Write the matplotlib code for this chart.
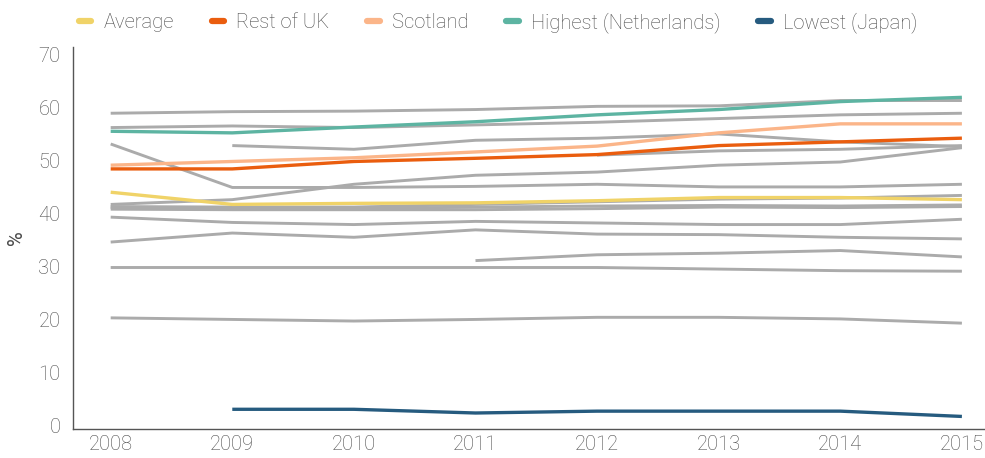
import matplotlib
matplotlib.use("Agg")
import matplotlib.pyplot as plt
import numpy as np
from matplotlib.lines import Line2D

plt.rcParams['font.family'] = ['Roboto', 'DejaVu Sans']
plt.rcParams['font.weight'] = 'light'

years = [2008, 2009, 2010, 2011, 2012, 2013, 2014, 2015]
nan = np.nan

# Highlighted series
average = [44.1, 41.8, 42.0, 42.1, 42.5, 43.1, 43.1, 42.7]
rest_of_uk = [48.5, 48.5, 49.9, 50.5, 51.2, 52.9, 53.6, 54.3]
scotland = [49.2, 49.9, 50.6, 51.7, 52.8, 55.3, 57.0, 57.0]
highest_netherlands = [55.6, 55.3, 56.4, 57.4, 58.7, 59.7, 61.2, 62.0]
lowest_japan = [nan, 3.15, 3.15, 2.45, 2.8, 2.8, 2.8, 1.8]

# Other countries (grey)
other_1 = [59.0, 59.3, 59.4, 59.7, 60.3, 60.4, 61.4, 61.4]
other_2 = [56.3, 56.6, 56.3, 56.8, 57.3, 58.0, 58.7, 59.0]
other_3 = [nan, 52.9, 52.2, 53.9, 54.3, 55.1, 53.6, 52.7]
other_4 = [nan, nan, nan, nan, 51.1, 51.9, 52.2, 52.9]
other_5 = [41.8, 42.7, 45.6, 47.3, 47.9, 49.2, 49.8, 52.5]
other_6 = [53.2, 45.0, 45.0, 45.2, 45.6, 45.1, 45.1, 45.6]
other_7 = [41.4, 41.3, 41.3, 41.8, 42.3, 42.8, 43.0, 43.5]
other_8 = [40.9, 40.8, 40.8, 40.8, 41.0, 41.3, 41.2, 41.4]
other_9 = [41.2, 41.0, 41.0, 41.3, 41.5, 41.6, 41.5, 41.7]
other_10 = [39.4, 38.4, 38.0, 38.6, 38.3, 38.0, 38.0, 39.0]
other_11 = [34.7, 36.4, 35.6, 37.0, 36.2, 36.1, 35.6, 35.3]
other_12 = [nan, nan, nan, 31.2, 32.3, 32.6, 33.1, 31.9]
other_13 = [29.9, 29.9, 29.9, 29.9, 29.9, 29.6, 29.3, 29.2]
other_14 = [20.4, 20.1, 19.8, 20.1, 20.5, 20.5, 20.2, 19.4]

others = [other_1, other_2, other_3, other_4, other_5, other_6, other_7,
          other_8, other_9, other_10, other_11, other_12, other_13, other_14]

highlight_labels = ["Average", "Rest of UK", "Scotland",
                    "Highest (Netherlands)", "Lowest (Japan)"]
highlight_values = [average, rest_of_uk, scotland, highest_netherlands, lowest_japan]
highlight_colors = ["#F0D368", "#EA5D0E", "#FBB589", "#5DB4A2", "#265B7F"]

y_ticks = [0, 10, 20, 30, 40, 50, 60, 70]

fig = plt.figure(figsize=(9.85, 4.58), dpi=100)
ax = fig.add_axes([0.0741, 0.0633, 0.9259, 0.8341])

grey = "#ABABAB"
for s in others:
    ax.plot(years, s, color=grey, lw=2.1, solid_capstyle='butt', zorder=2)

for lab, s, c in zip(highlight_labels, highlight_values, highlight_colors):
    ax.plot(years, s, color=c, lw=2.4, solid_capstyle='butt', zorder=3, label=lab)

text_color = "#4A4A4A"
ax.set_xlim(2007.69, 2015.19)
ax.set_ylim(-0.57, 71.5)
ax.set_xticks(years)
ax.set_xticklabels([str(y) for y in years])
ax.set_yticks(y_ticks)
ax.tick_params(axis='both', length=0, labelsize=14.5, colors=text_color)
ax.tick_params(axis='y', pad=9)
ax.tick_params(axis='x', pad=4)
for sp in ['top', 'right']:
    ax.spines[sp].set_visible(False)
for sp in ['left', 'bottom']:
    ax.spines[sp].set_color("#555555")
    ax.spines[sp].set_linewidth(1.0)
ax.set_ylabel("%", fontsize=14.5, color=text_color, labelpad=9)

handles = [Line2D([0], [0], color=c, lw=4.5, solid_capstyle='round') for c in highlight_colors]
leg = fig.legend(handles, highlight_labels, loc='upper left', bbox_to_anchor=(0.062, 1.014),
                 ncol=5, frameon=False, fontsize=14.5, handlelength=0.6,
                 handletextpad=0.6, columnspacing=1.9, labelcolor=text_color)

fig.savefig("out.png", dpi=100)
